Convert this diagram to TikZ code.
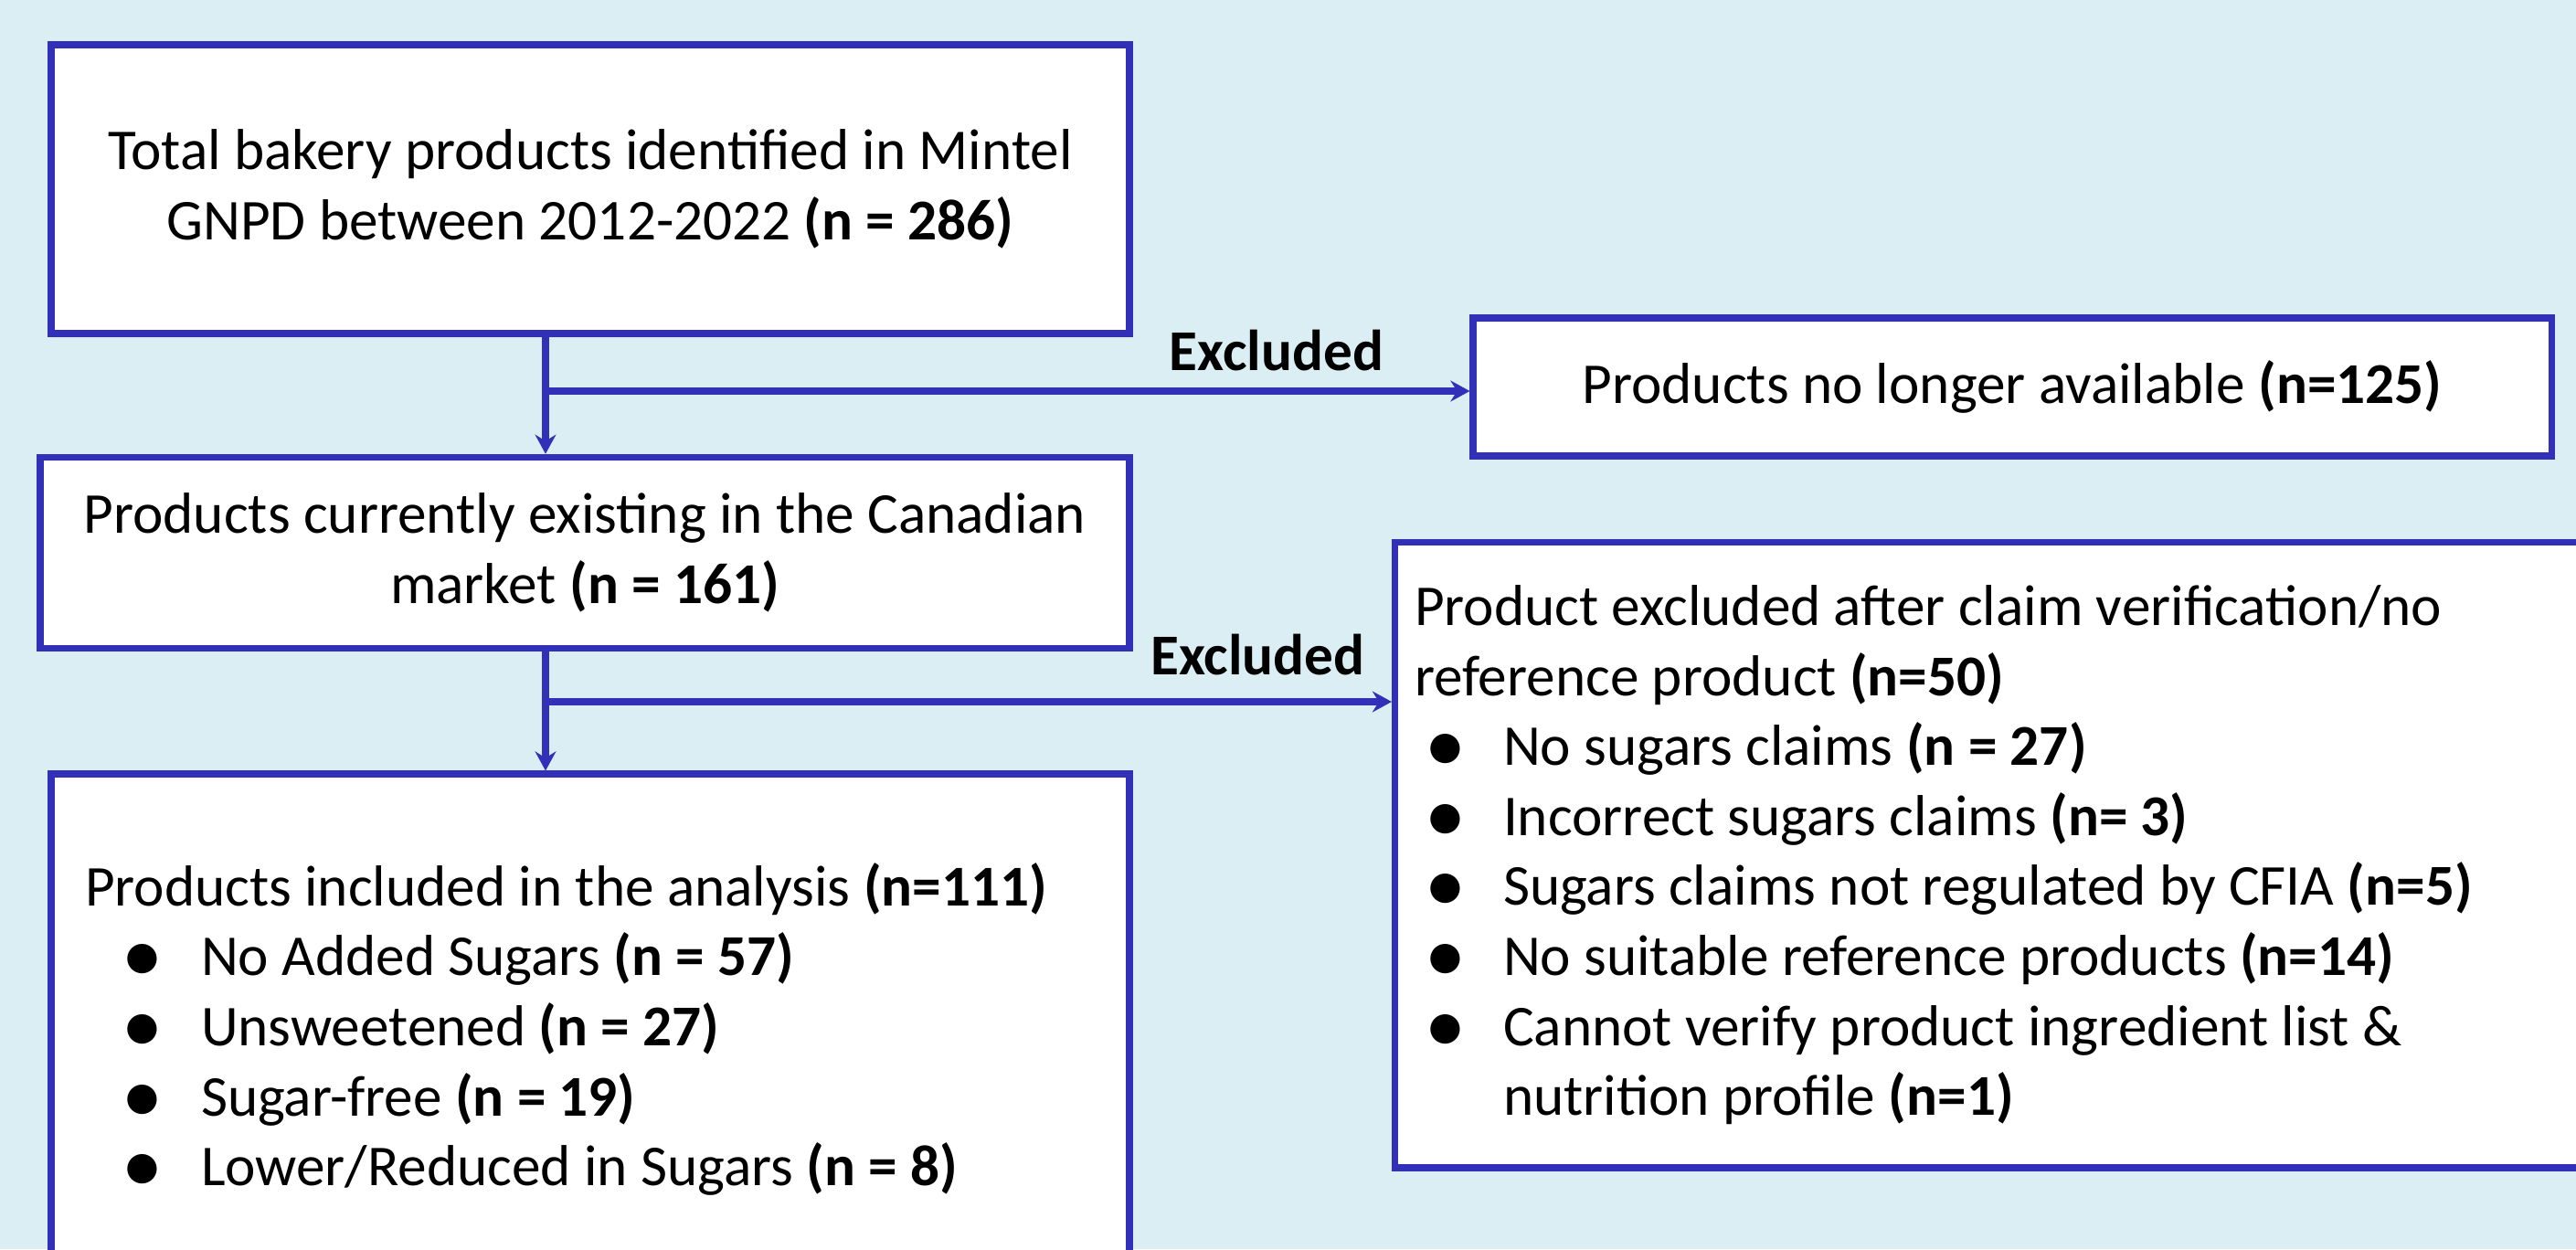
\documentclass[tikz,border=0pt]{standalone}
\usepackage{fontspec}
\setmainfont{Carlito}
\newfontfamily\dejavu{DejaVu Sans}
\usetikzlibrary{arrows.meta}
\definecolor{bgblue}{RGB}{219,238,244}
\definecolor{boxblue}{RGB}{50,48,185}
\newcommand{\bul}{\raisebox{2pt}{\dejavu\fontsize{12}{12}\selectfont ●}}
\newcommand{\bitem}[3]{\hspace*{#1}\makebox[0pt]{\bul}\hspace*{#2}#3}

\begin{document}
\begin{tikzpicture}[
    box/.style={draw=boxblue, line width=2pt, fill=white, inner sep=0pt, font=\fontsize{18}{21.8}\selectfont},
    flow/.style={draw=boxblue, line width=2pt, -{Stealth[length=6pt, width=6.5pt, inset=2pt]}},
    lbl/.style={font=\fontsize{18}{21.8}\selectfont\bfseries, inner sep=0pt, anchor=base}]
    \useasboundingbox (0,0) rectangle (28.19,13.67);
    \fill[bgblue] (0,0) rectangle (28.19,13.67);
    \clip (0,0) rectangle (28.19,13.67);

    \node[box, minimum width=11.8cm, minimum height=3.16cm, align=center] (1) at (6.46,11.60)
      {Total bakery products identified in Mintel\\GNPD between 2012-2022 \textbf{(n = 286)}};
    \node[box, minimum width=11.92cm, minimum height=2.095cm, align=center] (2) at (6.40,7.62)
      {Products currently existing in the Canadian\\market \textbf{(n = 161)}};
    \node[box, minimum width=11.8cm, minimum height=1.51cm, align=center] (3) at (22.02,9.435)
      {Products no longer available \textbf{(n=125)}};
    \node[box, minimum height=6.845cm, inner xsep=0.215cm, text width=13.3cm, align=flush left] (4) at (22.13,4.3125)
      {Product excluded after claim verification/no\\
       reference product \textbf{(n=50)}\\
       \bitem{0.34cm}{0.63cm}{No sugars claims \textbf{(n = 27)}}\\
       \bitem{0.34cm}{0.63cm}{Incorrect sugars claims \textbf{(n= 3)}}\\
       \bitem{0.34cm}{0.63cm}{Sugars claims not regulated by CFIA \textbf{(n=5)}}\\
       \bitem{0.34cm}{0.63cm}{No suitable reference products \textbf{(n=14)}}\\
       \bitem{0.34cm}{0.63cm}{Cannot verify product ingredient list \&}\\
       \hspace*{0.97cm}nutrition profile \textbf{(n=1)}};
    \node[box, minimum height=5.59cm, inner xsep=0.37cm, text width=11.06cm, align=flush left] (5) at (6.46,2.405)
      {Products included in the analysis \textbf{(n=111)}\\
       \bitem{0.63cm}{0.64cm}{No Added Sugars \textbf{(n = 57)}}\\
       \bitem{0.63cm}{0.64cm}{Unsweetened \textbf{(n = 27)}}\\
       \bitem{0.63cm}{0.64cm}{Sugar-free \textbf{(n = 19)}}\\
       \bitem{0.63cm}{0.64cm}{Lower/Reduced in Sugars \textbf{(n = 8)}}};

    \coordinate (v) at (5.97,0);
    \coordinate (a) at (5.97,9.39);
    \coordinate (b) at (5.97,5.99);
    \draw[flow] (1.south -| v) -- (2.north -| v);
    \draw[flow] (2.south -| v) -- (5.north -| v);
    \draw[flow] (a) -- (a -| 3.west);
    \draw[flow] (b) -- (b -| 4.west);

    \node[lbl] (x1) at (13.97,9.62) {Excluded};
    \node[lbl] (x2) at (13.765,6.29) {Excluded};
  \end{tikzpicture}
\end{document}
